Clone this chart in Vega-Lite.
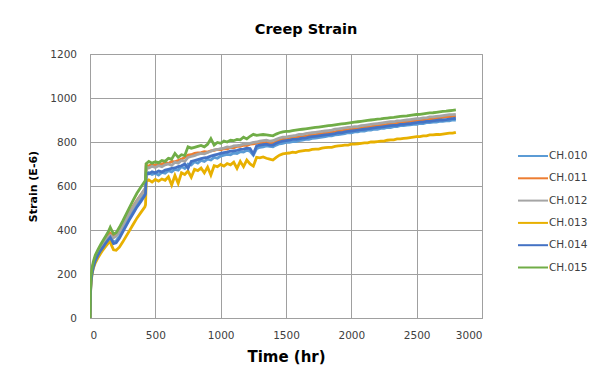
{
"$schema": "https://vega.github.io/schema/vega-lite/v6.json",
"width": 392, "height": 264,
"autosize": {"type": "none"},
"padding": {"left": 90, "top": 54, "right": 119, "bottom": 61},
"background": "white",
"title": {"text": "Creep Strain", "font": "DejaVu Sans", "fontSize": 14.5, "fontWeight": "bold", "color": "#000000", "anchor": "middle", "dx": 20, "offset": 12},
"data": {"values": [
{"t":0,"CH010":0,"CH011":0,"CH012":0,"CH013":0,"CH014":0,"CH015":0},
{"t":3,"CH010":110,"CH011":120,"CH012":115,"CH013":100,"CH014":105,"CH015":130},
{"t":8,"CH010":170,"CH011":180,"CH012":175,"CH013":160,"CH014":165,"CH015":190},
{"t":15,"CH010":205,"CH011":215,"CH012":210,"CH013":195,"CH014":200,"CH015":225},
{"t":25,"CH010":235,"CH011":245,"CH012":240,"CH013":225,"CH014":230,"CH015":255},
{"t":40,"CH010":265,"CH011":275,"CH012":270,"CH013":250,"CH014":260,"CH015":285},
{"t":60,"CH010":290,"CH011":300,"CH012":295,"CH013":272,"CH014":285,"CH015":310},
{"t":80,"CH010":310,"CH011":322,"CH012":318,"CH013":292,"CH014":305,"CH015":332},
{"t":100,"CH010":328,"CH011":340,"CH012":335,"CH013":310,"CH014":322,"CH015":352},
{"t":120,"CH010":345,"CH011":358,"CH012":352,"CH013":325,"CH014":340,"CH015":372},
{"t":140,"CH010":360,"CH011":375,"CH012":368,"CH013":340,"CH014":355,"CH015":392},
{"t":155,"CH010":368,"CH011":385,"CH012":376,"CH013":348,"CH014":366,"CH015":412},
{"t":165,"CH010":360,"CH011":380,"CH012":372,"CH013":330,"CH014":355,"CH015":400},
{"t":180,"CH010":345,"CH011":372,"CH012":365,"CH013":310,"CH014":338,"CH015":382},
{"t":200,"CH010":350,"CH011":378,"CH012":372,"CH013":308,"CH014":342,"CH015":388},
{"t":225,"CH010":372,"CH011":398,"CH012":392,"CH013":322,"CH014":362,"CH015":412},
{"t":250,"CH010":400,"CH011":425,"CH012":420,"CH013":345,"CH014":390,"CH015":440},
{"t":275,"CH010":428,"CH011":452,"CH012":448,"CH013":370,"CH014":418,"CH015":470},
{"t":300,"CH010":455,"CH011":478,"CH012":475,"CH013":395,"CH014":445,"CH015":500},
{"t":330,"CH010":485,"CH011":508,"CH012":505,"CH013":425,"CH014":475,"CH015":535},
{"t":360,"CH010":515,"CH011":535,"CH012":533,"CH013":455,"CH014":505,"CH015":568},
{"t":390,"CH010":540,"CH011":560,"CH012":560,"CH013":480,"CH014":530,"CH015":595},
{"t":420,"CH010":565,"CH011":585,"CH012":587,"CH013":505,"CH014":558,"CH015":622},
{"t":425,"CH010":570,"CH011":590,"CH012":592,"CH013":515,"CH014":565,"CH015":628},
{"t":430,"CH010":650,"CH011":695,"CH012":685,"CH013":620,"CH014":660,"CH015":702},
{"t":450,"CH010":660,"CH011":690,"CH012":682,"CH013":628,"CH014":655,"CH015":712},
{"t":475,"CH010":652,"CH011":700,"CH012":690,"CH013":618,"CH014":665,"CH015":704},
{"t":500,"CH010":658,"CH011":692,"CH012":684,"CH013":630,"CH014":660,"CH015":710},
{"t":525,"CH010":650,"CH011":702,"CH012":692,"CH013":622,"CH014":668,"CH015":706},
{"t":550,"CH010":662,"CH011":698,"CH012":688,"CH013":632,"CH014":664,"CH015":716},
{"t":575,"CH010":658,"CH011":708,"CH012":696,"CH013":626,"CH014":672,"CH015":712},
{"t":600,"CH010":670,"CH011":702,"CH012":700,"CH013":642,"CH014":676,"CH015":726},
{"t":625,"CH010":664,"CH011":712,"CH012":694,"CH013":605,"CH014":680,"CH015":722},
{"t":650,"CH010":676,"CH011":710,"CH012":708,"CH013":648,"CH014":682,"CH015":748},
{"t":675,"CH010":672,"CH011":716,"CH012":704,"CH013":612,"CH014":688,"CH015":730},
{"t":700,"CH010":688,"CH011":722,"CH012":716,"CH013":660,"CH014":692,"CH015":742},
{"t":725,"CH010":680,"CH011":730,"CH012":712,"CH013":652,"CH014":700,"CH015":738},
{"t":750,"CH010":700,"CH011":740,"CH012":730,"CH013":668,"CH014":680,"CH015":778},
{"t":775,"CH010":696,"CH011":742,"CH012":734,"CH013":640,"CH014":712,"CH015":772},
{"t":800,"CH010":710,"CH011":748,"CH012":738,"CH013":676,"CH014":716,"CH015":776},
{"t":825,"CH010":704,"CH011":750,"CH012":744,"CH013":670,"CH014":720,"CH015":780},
{"t":850,"CH010":716,"CH011":752,"CH012":748,"CH013":682,"CH014":724,"CH015":784},
{"t":875,"CH010":712,"CH011":756,"CH012":746,"CH013":660,"CH014":728,"CH015":778},
{"t":900,"CH010":722,"CH011":754,"CH012":752,"CH013":686,"CH014":730,"CH015":790},
{"t":925,"CH010":718,"CH011":760,"CH012":758,"CH013":650,"CH014":736,"CH015":815},
{"t":950,"CH010":730,"CH011":762,"CH012":764,"CH013":692,"CH014":740,"CH015":786},
{"t":975,"CH010":726,"CH011":766,"CH012":766,"CH013":688,"CH014":744,"CH015":798},
{"t":1000,"CH010":736,"CH011":764,"CH012":770,"CH013":698,"CH014":748,"CH015":794},
{"t":1025,"CH010":740,"CH011":770,"CH012":772,"CH013":690,"CH014":752,"CH015":804},
{"t":1050,"CH010":744,"CH011":768,"CH012":778,"CH013":702,"CH014":754,"CH015":800},
{"t":1075,"CH010":742,"CH011":776,"CH012":776,"CH013":696,"CH014":758,"CH015":808},
{"t":1100,"CH010":750,"CH011":774,"CH012":782,"CH013":708,"CH014":760,"CH015":806},
{"t":1125,"CH010":748,"CH011":780,"CH012":784,"CH013":680,"CH014":762,"CH015":812},
{"t":1150,"CH010":756,"CH011":780,"CH012":786,"CH013":712,"CH014":766,"CH015":810},
{"t":1175,"CH010":754,"CH011":786,"CH012":790,"CH013":688,"CH014":768,"CH015":822},
{"t":1200,"CH010":762,"CH011":784,"CH012":792,"CH013":718,"CH014":772,"CH015":814},
{"t":1225,"CH010":758,"CH011":790,"CH012":794,"CH013":700,"CH014":770,"CH015":826},
{"t":1250,"CH010":740,"CH011":792,"CH012":798,"CH013":690,"CH014":745,"CH015":835},
{"t":1275,"CH010":770,"CH011":794,"CH012":800,"CH013":730,"CH014":782,"CH015":830},
{"t":1300,"CH010":776,"CH011":798,"CH012":804,"CH013":728,"CH014":786,"CH015":832},
{"t":1325,"CH010":778,"CH011":796,"CH012":806,"CH013":732,"CH014":788,"CH015":834},
{"t":1350,"CH010":782,"CH011":798,"CH012":808,"CH013":726,"CH014":790,"CH015":832},
{"t":1375,"CH010":780,"CH011":794,"CH012":804,"CH013":722,"CH014":786,"CH015":830},
{"t":1400,"CH010":778,"CH011":792,"CH012":806,"CH013":718,"CH014":786,"CH015":828},
{"t":1425,"CH010":786,"CH011":802,"CH012":812,"CH013":730,"CH014":794,"CH015":836},
{"t":1450,"CH010":792,"CH011":808,"CH012":818,"CH013":740,"CH014":800,"CH015":842},
{"t":1475,"CH010":794,"CH011":812,"CH012":822,"CH013":746,"CH014":804,"CH015":846},
{"t":1500,"CH010":798,"CH011":814,"CH012":822,"CH013":748,"CH014":806,"CH015":848},
{"t":1525,"CH010":798,"CH011":818,"CH012":826,"CH013":750,"CH014":808,"CH015":848},
{"t":1550,"CH010":802,"CH011":816,"CH012":828,"CH013":754,"CH014":812,"CH015":852},
{"t":1575,"CH010":802,"CH011":822,"CH012":830,"CH013":752,"CH014":812,"CH015":854},
{"t":1600,"CH010":806,"CH011":822,"CH012":834,"CH013":758,"CH014":814,"CH015":856},
{"t":1625,"CH010":808,"CH011":826,"CH012":834,"CH013":760,"CH014":818,"CH015":858},
{"t":1650,"CH010":812,"CH011":826,"CH012":838,"CH013":762,"CH014":818,"CH015":860},
{"t":1675,"CH010":812,"CH011":830,"CH012":840,"CH013":762,"CH014":822,"CH015":862},
{"t":1700,"CH010":816,"CH011":832,"CH012":842,"CH013":766,"CH014":824,"CH015":864},
{"t":1725,"CH010":818,"CH011":834,"CH012":844,"CH013":768,"CH014":826,"CH015":866},
{"t":1750,"CH010":820,"CH011":836,"CH012":846,"CH013":768,"CH014":828,"CH015":868},
{"t":1775,"CH010":822,"CH011":838,"CH012":848,"CH013":772,"CH014":830,"CH015":870},
{"t":1800,"CH010":824,"CH011":840,"CH012":850,"CH013":774,"CH014":832,"CH015":872},
{"t":1825,"CH010":828,"CH011":842,"CH012":852,"CH013":776,"CH014":834,"CH015":874},
{"t":1850,"CH010":828,"CH011":846,"CH012":854,"CH013":776,"CH014":836,"CH015":876},
{"t":1875,"CH010":832,"CH011":846,"CH012":858,"CH013":780,"CH014":838,"CH015":878},
{"t":1900,"CH010":834,"CH011":850,"CH012":860,"CH013":782,"CH014":842,"CH015":880},
{"t":1925,"CH010":836,"CH011":852,"CH012":862,"CH013":784,"CH014":842,"CH015":882},
{"t":1950,"CH010":838,"CH011":854,"CH012":864,"CH013":786,"CH014":846,"CH015":884},
{"t":1975,"CH010":842,"CH011":856,"CH012":866,"CH013":786,"CH014":848,"CH015":886},
{"t":2000,"CH010":842,"CH011":858,"CH012":868,"CH013":790,"CH014":850,"CH015":888},
{"t":2025,"CH010":846,"CH011":860,"CH012":870,"CH013":790,"CH014":852,"CH015":890},
{"t":2050,"CH010":846,"CH011":862,"CH012":870,"CH013":792,"CH014":854,"CH015":892},
{"t":2075,"CH010":850,"CH011":864,"CH012":874,"CH013":794,"CH014":856,"CH015":894},
{"t":2100,"CH010":850,"CH011":866,"CH012":876,"CH013":796,"CH014":858,"CH015":896},
{"t":2125,"CH010":854,"CH011":868,"CH012":878,"CH013":796,"CH014":860,"CH015":898},
{"t":2150,"CH010":854,"CH011":870,"CH012":880,"CH013":800,"CH014":862,"CH015":900},
{"t":2175,"CH010":858,"CH011":872,"CH012":882,"CH013":800,"CH014":864,"CH015":902},
{"t":2200,"CH010":858,"CH011":874,"CH012":884,"CH013":802,"CH014":866,"CH015":904},
{"t":2225,"CH010":862,"CH011":876,"CH012":886,"CH013":804,"CH014":868,"CH015":905},
{"t":2250,"CH010":862,"CH011":878,"CH012":888,"CH013":804,"CH014":870,"CH015":907},
{"t":2275,"CH010":866,"CH011":880,"CH012":890,"CH013":808,"CH014":872,"CH015":909},
{"t":2300,"CH010":866,"CH011":882,"CH012":892,"CH013":810,"CH014":874,"CH015":911},
{"t":2325,"CH010":870,"CH011":884,"CH012":892,"CH013":810,"CH014":876,"CH015":912},
{"t":2350,"CH010":870,"CH011":886,"CH012":896,"CH013":814,"CH014":876,"CH015":914},
{"t":2375,"CH010":874,"CH011":888,"CH012":896,"CH013":814,"CH014":880,"CH015":916},
{"t":2400,"CH010":874,"CH011":890,"CH012":898,"CH013":816,"CH014":880,"CH015":918},
{"t":2425,"CH010":877,"CH011":892,"CH012":900,"CH013":818,"CH014":882,"CH015":919},
{"t":2450,"CH010":878,"CH011":894,"CH012":902,"CH013":820,"CH014":884,"CH015":921},
{"t":2475,"CH010":880,"CH011":896,"CH012":904,"CH013":822,"CH014":886,"CH015":923},
{"t":2500,"CH010":880,"CH011":898,"CH012":906,"CH013":824,"CH014":888,"CH015":925},
{"t":2525,"CH010":884,"CH011":900,"CH012":906,"CH013":824,"CH014":890,"CH015":926},
{"t":2550,"CH010":884,"CH011":902,"CH012":910,"CH013":828,"CH014":890,"CH015":928},
{"t":2575,"CH010":888,"CH011":902,"CH012":910,"CH013":828,"CH014":894,"CH015":930},
{"t":2600,"CH010":888,"CH011":906,"CH012":914,"CH013":832,"CH014":894,"CH015":932},
{"t":2625,"CH010":890,"CH011":906,"CH012":914,"CH013":832,"CH014":896,"CH015":933},
{"t":2650,"CH010":890,"CH011":908,"CH012":916,"CH013":834,"CH014":898,"CH015":935},
{"t":2675,"CH010":894,"CH011":910,"CH012":918,"CH013":834,"CH014":900,"CH015":937},
{"t":2700,"CH010":894,"CH011":912,"CH012":920,"CH013":836,"CH014":900,"CH015":939},
{"t":2725,"CH010":896,"CH011":914,"CH012":922,"CH013":838,"CH014":902,"CH015":940},
{"t":2750,"CH010":896,"CH011":914,"CH012":924,"CH013":840,"CH014":904,"CH015":942},
{"t":2775,"CH010":900,"CH011":916,"CH012":924,"CH013":840,"CH014":906,"CH015":944},
{"t":2800,"CH010":900,"CH011":918,"CH012":926,"CH013":844,"CH014":908,"CH015":946}
]},
"transform": [{"fold": ["CH010","CH011","CH012","CH013","CH014","CH015"], "as": ["series","strain"]}],
"mark": {"type": "line", "strokeWidth": 2.8, "clip": true},
"encoding": {
  "x": {"field": "t", "type": "quantitative", "scale": {"domain": [0, 3000], "nice": false},
        "axis": {"values": [0,500,1000,1500,2000,2500,3000], "format": "d", "grid": true, "domain": true, "title": "Time (hr)", "labelPadding": 12, "titleFontSize": 15, "titlePadding": 9}},
  "y": {"field": "strain", "type": "quantitative", "scale": {"domain": [0, 1200], "nice": false},
        "axis": {"values": [0,200,400,600,800,1000,1200], "format": "d", "grid": true, "domain": true, "title": "Strain (E-6)", "labelPadding": 13.5, "titleFontSize": 11, "titlePadding": 11}},
  "color": {"field": "series", "type": "nominal",
            "scale": {"domain": ["CH010","CH011","CH012","CH013","CH014","CH015"], "range": ["#5B9BD5","#ED7D31","#A5A5A5","#E8B000","#4472C4","#70AD47"]},
            "legend": {"orient": "none", "legendX": 432, "legendY": 91, "title": null, "labelExpr": "'CH.' + substring(datum.label, 2)",
                       "symbolType": "M-1.5,0H1.5", "symbolSize": 400, "symbolStrokeWidth": 2, "labelOffset": 5, "rowPadding": 5.3, "padding": 0,
                       "labelFont": "DejaVu Sans", "labelFontSize": 10.5, "labelColor": "#404040"}}
},
"config": {
  "view": {"stroke": "#a0a0a0", "strokeWidth": 1},
  "axis": {"labelFont": "DejaVu Sans", "labelFontSize": 10.5, "labelColor": "#404040", "tickSize": 0, "tickColor": "#a0a0a0",
           "domainColor": "#a0a0a0", "gridColor": "#a0a0a0", "gridOpacity": 1,
           "titleFont": "DejaVu Sans", "titleFontWeight": "bold", "titleColor": "#000000"}
}
}
